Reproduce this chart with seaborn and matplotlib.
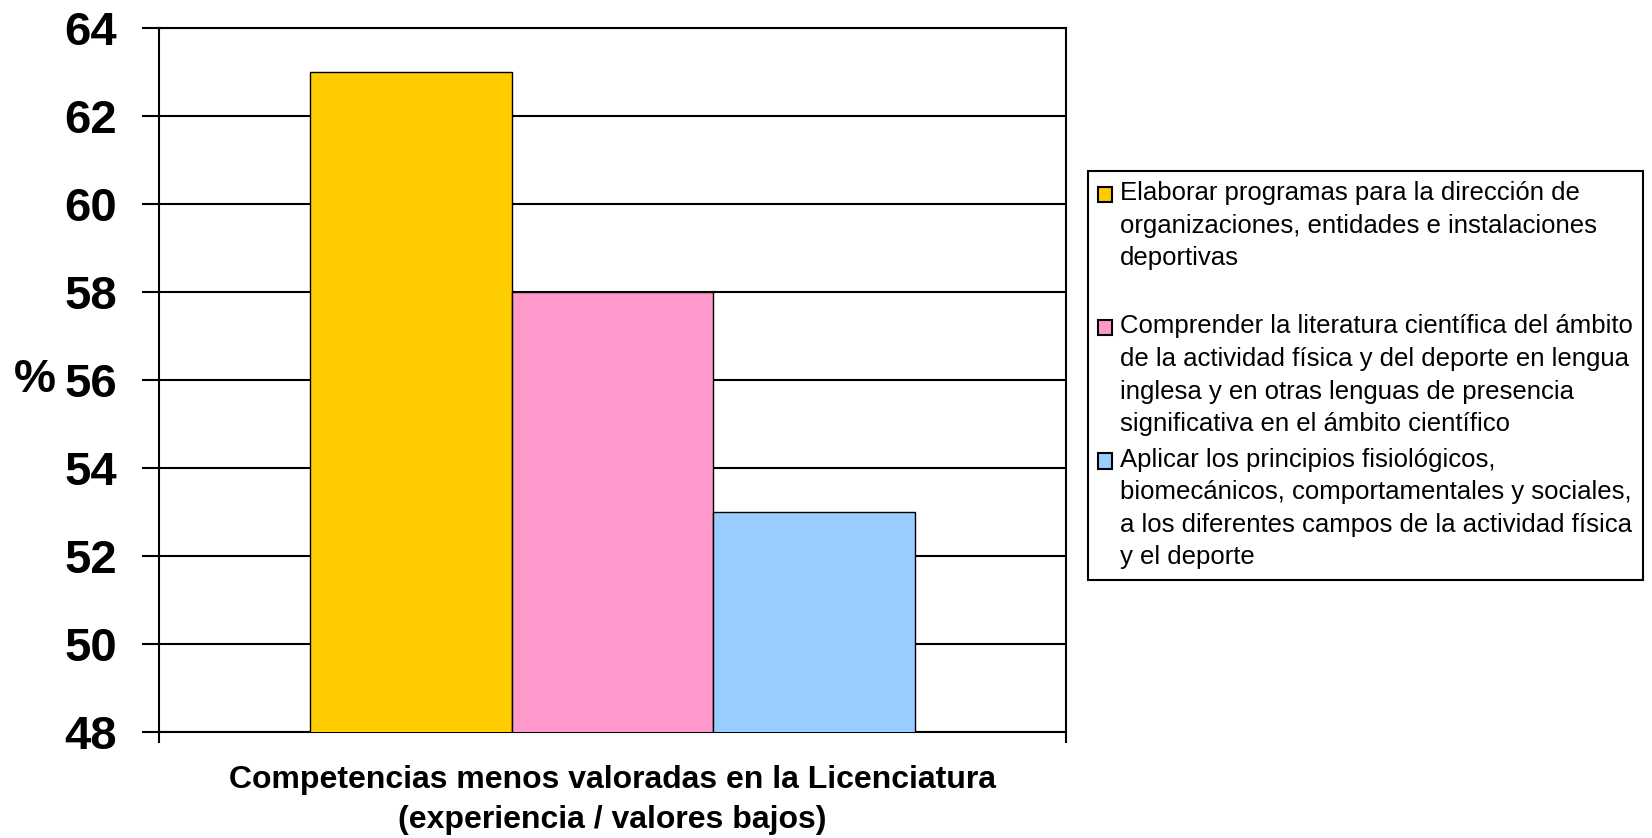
import matplotlib
matplotlib.use("Agg")
import matplotlib.pyplot as plt
import seaborn as sns
import pandas as pd
from matplotlib.patches import Rectangle, Patch
from matplotlib.legend_handler import HandlerPatch

# ---- data ----
category = ["Competencias menos valoradas en la Licenciatura\n(experiencia / valores bajos)"]
series_labels = [
    "Elaborar programas para la dirección de\norganizaciones, entidades e instalaciones\ndeportivas\n",
    "Comprender la literatura científica del ámbito\nde la actividad física y del deporte en lengua\ninglesa y en otras lenguas de presencia\nsignificativa en el ámbito científico",
    "Aplicar los principios fisiológicos,\nbiomecánicos, comportamentales y sociales,\na los diferentes campos de la actividad física\ny el deporte",
]
values = [63, 58, 53]
colors = ["#FFCC00", "#FF99CC", "#99CCFF"]
y_ticks = [48, 50, 52, 54, 56, 58, 60, 62, 64]

df = pd.DataFrame({
    "cat": category * len(values),
    "serie": series_labels,
    "valor": values,
})

sns.set_theme(style="white")
plt.rcParams["font.family"] = ["Liberation Sans", "DejaVu Sans"]
for k in ["text.color", "axes.labelcolor", "xtick.color", "ytick.color"]:
    plt.rcParams[k] = "black"

W, H = 1652, 838
fig = plt.figure(figsize=(W / 100, H / 100), dpi=100)
ax = fig.add_axes([159 / W, 1 - 732 / H, (1066 - 159) / W, (732 - 28) / H])

sns.barplot(data=df, x="cat", y="valor", hue="serie", hue_order=series_labels,
            palette=colors, width=0.668, edgecolor="black", linewidth=1.0,
            saturation=1, ax=ax, zorder=3)

ax.set_ylim(48, 64)
ax.set_xlim(-0.5, 0.5)
ax.set_yticks(y_ticks)
ax.yaxis.grid(True, color="black", linewidth=1.5, zorder=0)
ax.set_axisbelow(True)
ax.tick_params(axis="y", which="major", length=12, width=1.5, color="black",
               direction="out", pad=18, labelsize=34, left=True, labelcolor="black")
for t in ax.get_yticklabels():
    t.set_fontweight("bold")

# x: category label, ticks at category boundaries
ax.tick_params(axis="x", which="major", length=0, labelsize=23, pad=24, labelcolor="black")
for t in ax.get_xticklabels():
    t.set_fontweight("bold")
    t.set_linespacing(1.42)
ax.set_xticks([-0.5, 0.5], minor=True)
ax.tick_params(axis="x", which="minor", length=8, width=1.5, color="black",
               direction="out", bottom=True)
ax.set_xlabel("")

ax.set_ylabel("%", rotation=0, fontsize=34, fontweight="bold", labelpad=6,
              va="center", ha="right", color="black")

for side in ["left", "right", "bottom", "top"]:
    ax.spines[side].set_visible(True)
    ax.spines[side].set_color("black")
    ax.spines[side].set_linewidth(1.5)


class TopHandler(HandlerPatch):
    def __init__(self, shift, **kw):
        super().__init__(**kw)
        self.shift = shift

    def create_artists(self, legend, orig_handle, xdescent, ydescent, width,
                       height, fontsize, trans):
        p = Rectangle((-xdescent, -ydescent + self.shift * fontsize), width, height,
                      facecolor=orig_handle.get_facecolor(), edgecolor="black",
                      linewidth=1.5, transform=trans)
        return [p]


old = ax.get_legend()
if old is not None:
    old.remove()
handles = [Patch(facecolor=c, edgecolor="black") for c in colors]
fs = 18.5
leg = fig.legend(handles, series_labels, loc="upper left",
                 bbox_to_anchor=(1088 / W, 1 - 171 / H), bbox_transform=fig.transFigure,
                 borderaxespad=0, fontsize=fs, frameon=True, fancybox=False,
                 edgecolor="black", framealpha=1, handlelength=0.55, handleheight=0.55,
                 handletextpad=0.3, labelspacing=0.45, borderpad=0.4,
                 handler_map={Patch: TopHandler(1.87)})
leg.get_frame().set_linewidth(1.5)
for t in leg.get_texts():
    t.set_linespacing(1.45)
    t.set_color("black")

fig.savefig("out.png", dpi=100)
